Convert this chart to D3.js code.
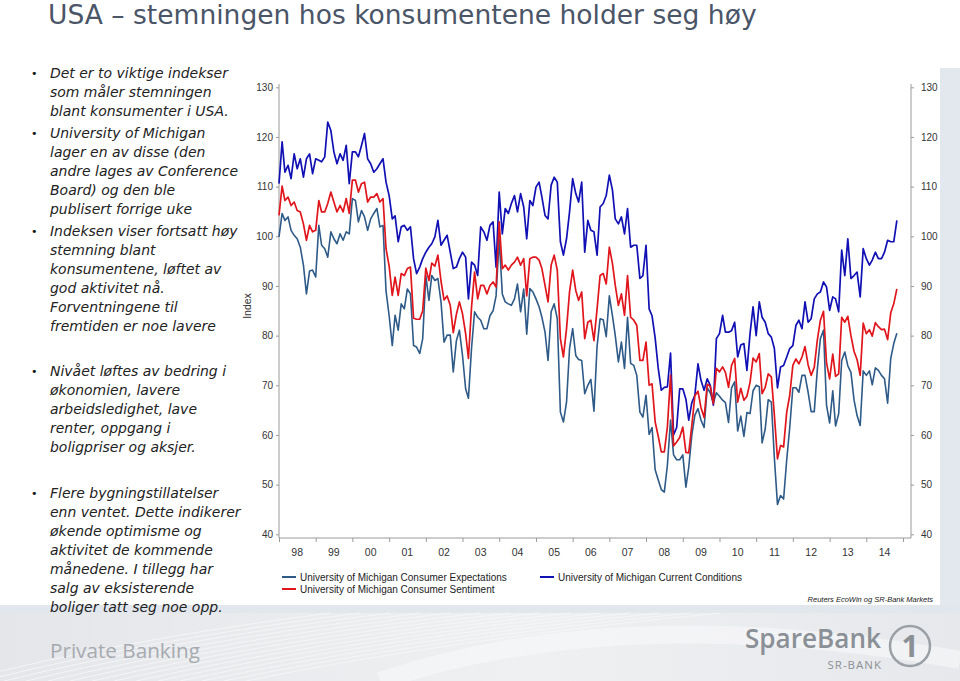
<!DOCTYPE html>
<html><head><meta charset="utf-8">
<script src="https://cdnjs.cloudflare.com/ajax/libs/d3/7.8.5/d3.min.js"></script>
<style>body{margin:0;background:#fff}svg{display:block}</style>
</head><body><svg id="c" width="960" height="681"></svg>
<script>
// ---------- DATA (monthly, Jan 1998 – Nov 2014) ----------
const startYear = 1998;
const yearLabels = ["98","99","00","01","02","03","04","05","06","07","08","09","10","11","12","13","14"];
const yTicks = [40,50,60,70,80,90,100,110,120,130];

const sentiment = [
104.2,110.1,107.2,107.9,106.2,106.9,105.2,104.9,102.5,99.2,102.2,100.9,
101.2,107.2,104.9,104.9,106.6,108.9,106.9,104.9,106.2,104.9,107.6,104.6,
111.3,111.3,108.9,110.6,110.9,106.9,107.9,107.9,108.6,106.9,107.6,97.5,
94.0,88.1,91.8,88.1,92.5,92.1,93.5,93.8,83.5,83.3,83.3,85.0,
93.6,91.1,94.6,94.0,96.2,91.0,87.2,88.0,86.1,80.6,84.3,86.8,
84.4,80.4,75.4,85.8,92.8,87.4,90.1,90.1,88.4,90.1,90.8,89.8,
102.9,93.5,94.2,93.2,94.2,94.8,95.8,94.2,95.5,88.0,95.5,95.8,
95.8,95.2,93.5,90.1,86.8,94.2,96.2,93.2,79.4,75.7,81.4,88.8,
93.2,89.1,87.1,88.8,79.4,82.7,83.1,79.0,85.4,92.1,92.5,90.4,
97.8,94.5,90.1,86.1,88.4,84.1,92.1,83.7,83.1,82.1,75.0,75.0,
78.7,70.0,70.3,62.6,59.8,56.6,56.6,61.7,72.0,57.8,58.6,59.5,
61.6,56.5,56.4,62.0,67.9,68.8,65.5,63.5,70.2,69.8,66.3,73.4,
72.7,73.7,72.6,69.6,74.0,75.4,66.6,69.4,67.0,67.8,70.6,75.5,
74.7,76.4,68.3,69.6,72.3,71.7,64.0,55.2,57.9,57.6,64.6,68.0,
74.0,75.3,74.3,75.7,77.8,74.1,72.0,73.6,79.2,83.1,84.9,74.5,
71.3,76.3,71.8,72.3,83.7,82.7,83.9,80.0,76.8,75.2,72.0,82.5,
80.4,81.2,79.9,82.6,81.8,81.2,81.3,79.2,84.6,86.4,89.4];

const current = [
110.6,119.0,112.9,114.3,111.6,116.6,113.6,115.6,111.9,115.6,116.6,112.6,
115.6,115.3,115.0,116.0,123.0,121.3,117.0,114.6,116.6,115.3,118.3,110.6,
117.0,117.0,116.0,118.3,120.7,115.6,114.6,112.9,113.6,114.6,115.6,110.9,
108.2,103.5,104.1,98.9,101.9,102.2,101.2,101.9,95.5,92.5,93.8,95.5,
96.8,97.8,98.5,99.9,103.2,98.2,99.2,100.2,96.8,93.5,93.8,95.5,
96.8,95.8,87.4,94.8,94.2,92.1,101.9,100.9,99.2,102.2,102.9,93.8,
108.9,100.5,105.6,104.6,106.6,108.2,104.9,108.6,105.9,99.5,107.2,106.2,
109.9,110.9,107.9,104.2,103.5,110.3,111.9,110.9,98.9,96.2,99.5,104.9,
111.6,108.6,106.9,110.9,96.8,103.2,101.2,100.9,96.2,105.9,106.6,108.2,
112.3,109.3,103.5,102.5,103.9,100.5,105.6,97.8,98.2,98.2,91.5,92.1,
98.2,85.4,84.0,79.5,73.5,69.0,69.6,69.7,76.5,60.0,61.5,69.3,
69.3,67.2,63.0,66.5,68.0,74.3,71.0,69.0,71.3,70.0,66.0,79.4,
80.4,84.1,80.7,80.7,81.0,82.7,75.7,78.1,78.4,73.0,80.4,85.8,
80.0,86.8,83.7,82.7,80.4,79.7,77.4,69.5,73.7,74.0,75.7,77.4,
78.0,82.1,83.1,81.4,86.8,82.7,83.4,87.4,88.4,88.8,90.8,89.8,
85.1,87.8,87.4,84.8,97.2,92.1,99.5,91.5,92.1,92.8,87.8,97.5,
95.5,94.2,95.2,96.8,95.5,95.5,96.8,99.2,98.9,98.9,103.2];

const expectations = [
99.9,104.6,103.2,103.9,101.2,100.2,99.5,97.8,94.2,88.4,93.0,93.2,
91.8,102.2,98.2,97.5,95.8,100.9,99.5,98.5,100.5,99.2,100.9,100.5,
107.6,107.2,102.9,105.2,103.9,101.2,103.5,104.6,105.6,101.9,102.2,89.0,
84.0,78.0,84.1,81.1,86.4,85.4,89.4,88.4,78.0,77.7,76.4,79.4,
92.1,87.1,92.1,91.1,91.5,86.8,78.7,80.1,80.1,72.7,79.0,81.1,
76.0,69.3,67.4,77.5,84.8,83.7,83.1,81.4,81.4,84.0,85.0,88.0,
99.5,88.4,86.8,86.4,86.1,87.4,90.4,84.8,89.4,80.3,89.5,88.8,
87.4,85.8,83.7,80.7,75.0,84.8,86.4,83.4,64.6,62.6,66.6,77.4,
81.4,76.0,75.2,75.0,68.3,70.0,71.2,64.8,77.9,83.4,83.2,79.8,
88.0,84.0,80.0,74.7,78.7,73.4,83.7,74.4,74.0,72.0,64.6,63.6,
68.0,60.1,61.5,53.0,51.0,49.0,48.5,54.0,63.0,56.0,55.0,55.0,
56.0,49.5,53.5,60.0,64.0,65.3,63.0,61.5,69.5,68.5,66.5,68.5,
67.8,67.0,66.5,62.5,69.5,70.7,60.8,63.8,59.7,64.5,64.3,68.9,
70.0,69.7,58.4,61.2,67.1,66.6,55.4,46.0,47.8,47.1,55.0,61.5,
69.5,69.5,68.6,72.0,72.0,68.6,64.7,64.7,73.3,79.4,81.1,66.0,
62.4,68.9,61.8,64.3,75.0,76.7,73.9,72.6,67.0,63.9,61.9,72.9,
72.0,72.9,70.1,73.5,73.0,72.0,71.3,66.4,75.4,78.4,80.5];

const seriesNames = ["University of Michigan Consumer Expectations",
                     "University of Michigan Current Conditions",
                     "University of Michigan Consumer Sentiment"];
const seriesColors = ["#2e5a88", "#1010b4", "#e0161c"];

const title = "USA \u2013 stemningen hos konsumentene holder seg h\u00f8y";
const bulletGroups = [
  ["Det er to viktige indekser","som m\u00e5ler stemningen","blant konsumenter i USA."],
  ["University of Michigan","lager en av disse (den","andre lages av Conference","Board) og den ble","publisert forrige uke"],
  ["Indeksen viser fortsatt h\u00f8y","stemning blant","konsumentene, l\u00f8ftet av","god aktivitet n\u00e5.","Forventningene til","fremtiden er noe lavere"],
  ["Niv\u00e5et l\u00f8ftes av bedring i","\u00f8konomien, lavere","arbeidsledighet, lave","renter, oppgang i","boligpriser og aksjer."],
  ["Flere bygningstillatelser","enn ventet. Dette indikerer","\u00f8kende optimisme og","aktivitet de kommende","m\u00e5nedene. I tillegg har","salg av eksisterende","boliger tatt seg noe opp."]
];
const bulletTops = [73, 133, 231, 371, 493];
const sourceText = "Reuters EcoWin og SR-Bank Markets";

// ---------- DRAW ----------
const svg = d3.select("#c");
function fit(sel, w){ const n = sel.node(); const cur = n.getComputedTextLength(); const fs = parseFloat(sel.attr("font-size")); sel.attr("font-size", fs*w/cur); return fs*w/cur; }

// background decorations
const defs = svg.append("defs");
const g1 = defs.append("linearGradient").attr("id","ban").attr("x1",0).attr("y1",0).attr("x2",1).attr("y2",0);
g1.append("stop").attr("offset","0%").attr("stop-color","#e4e6e9");
g1.append("stop").attr("offset","55%").attr("stop-color","#eef0f2");
g1.append("stop").attr("offset","100%").attr("stop-color","#e6e8eb");
svg.append("rect").attr("x",940).attr("y",68).attr("width",20).attr("height",545).attr("fill","#e3e8ee");
svg.append("rect").attr("x",0).attr("y",605).attr("width",960).attr("height",8).attr("fill","#e2e7ed");
svg.append("rect").attr("x",0).attr("y",613).attr("width",960).attr("height",68).attr("fill","url(#ban)");
for (let i=0;i<14;i++){
  svg.append("path").attr("d",`M${-40+i*22},681 Q${120+i*25},640 ${330+i*30},613`)
    .attr("fill","none").attr("stroke","#f7f8f9").attr("stroke-width",1).attr("opacity",0.8);
}
svg.append("path").attr("d","M380,681 Q620,600 960,660").attr("fill","none").attr("stroke","#f8f9fa").attr("stroke-width",18).attr("opacity",0.6);

// title
const tt = svg.append("text").attr("x",48).attr("y",24).attr("font-family","DejaVu Sans, Verdana, sans-serif")
  .attr("font-size",26).attr("fill","#4a5567").text(title);
fit(tt, 709);

// bullets
let bfs = null;
bulletGroups.forEach((grp, gi) => {
  svg.append("text").attr("x",31).attr("y",bulletTops[gi]+4).attr("font-family","DejaVu Sans, sans-serif")
    .attr("font-size",11).attr("fill","#111").text("\u2022");
  grp.forEach((line, li) => {
    const t = svg.append("text").attr("x",50).attr("y",bulletTops[gi]+li*19+4.5)
      .attr("font-family","DejaVu Sans, Verdana, sans-serif").attr("font-style","italic")
      .attr("font-size",bfs||12).attr("fill","#222").text(line);
    if (bfs===null) bfs = fit(t, 178);
  });
});

// chart
const x = d3.scaleTime().domain([new Date(1998,0,1), new Date(2015,0,1)]).range([279, 903]);
const y = d3.scaleLinear().domain([40,130]).range([534.3, 87.3]);
const dates = sentiment.map((_, i) => d3.timeMonth.offset(new Date(startYear,0,1), i));
const axisCol = "#9a9a9a";
const fontC = "Liberation Sans, Arial, sans-serif";

const la = svg.append("g").attr("transform","translate(279,0)")
  .call(d3.axisLeft(y).tickValues(yTicks).tickSize(3).tickPadding(3));
const ra = svg.append("g").attr("transform","translate(911,0)")
  .call(d3.axisRight(y).tickValues(yTicks).tickSize(3).tickPadding(7));
[la, ra].forEach(a => {
  a.select(".domain").remove();
  a.selectAll("line").attr("stroke", axisCol);
  a.selectAll("text").attr("font-family",fontC).attr("font-size",10).attr("fill","#333");
});
svg.append("line").attr("x1",279).attr("x2",279).attr("y1",84).attr("y2",538).attr("stroke",axisCol);
svg.append("line").attr("x1",911).attr("x2",911).attr("y1",84).attr("y2",538).attr("stroke",axisCol);

const years = d3.timeYear.range(new Date(1998,0,1), new Date(2016,0,1));
const ba = svg.append("g").attr("transform","translate(0,538)")
  .call(d3.axisBottom(x).tickValues(years).tickSize(4).tickFormat(""));
ba.select(".domain").remove();
ba.selectAll("line").attr("stroke",axisCol);
svg.append("line").attr("x1",279).attr("x2",911).attr("y1",538).attr("y2",538).attr("stroke",axisCol);
svg.append("g").selectAll("text").data(yearLabels).join("text")
  .attr("x",(d,i)=> x(new Date(startYear+i,6,1)))
  .attr("y",556).attr("text-anchor","middle").attr("font-family",fontC).attr("font-size",10.5).attr("fill","#333")
  .text(d=>d);

svg.append("text").attr("transform","translate(251,306) rotate(-90)").attr("text-anchor","middle")
  .attr("font-family",fontC).attr("font-size",10.5).attr("fill","#333").text("Index");

const line = d3.line().x((d,i)=>x(dates[i])).y(d=>y(d));
const seriesData = [expectations, current, sentiment];
seriesData.forEach((s, k) => {
  svg.append("path").datum(s).attr("d", line).attr("fill","none")
    .attr("stroke", seriesColors[k]).attr("stroke-width", k===0?1.6:1.7).attr("stroke-linejoin","round");
});

const legPos = [[282,577],[540,577],[282,589]];
legPos.forEach((p,k)=>{
  svg.append("line").attr("x1",p[0]).attr("x2",p[0]+14).attr("y1",p[1]).attr("y2",p[1])
    .attr("stroke",seriesColors[k]).attr("stroke-width",2);
  svg.append("text").attr("x",p[0]+18).attr("y",p[1]+3.5).attr("font-family",fontC)
    .attr("font-size",10).attr("fill","#222").text(seriesNames[k]);
});
svg.append("text").attr("x",933).attr("y",602).attr("text-anchor","end").attr("font-family",fontC)
  .attr("font-style","italic").attr("font-size",7.5).attr("fill","#222").text(sourceText);

// footer branding
const pb = svg.append("text").attr("x",50).attr("y",658).attr("font-family","Open Sans, sans-serif")
  .attr("font-size",20).attr("fill","#a6aab0").text("Private Banking");
fit(pb, 150);
const sb = svg.append("text").attr("x",745).attr("y",648).attr("font-family","Open Sans, sans-serif")
  .attr("font-weight",600).attr("font-size",26).attr("fill","#8b9097").text("SpareBank");
fit(sb, 136);
svg.append("text").attr("x",882).attr("y",669).attr("text-anchor","end").attr("font-family","Open Sans, sans-serif")
  .attr("font-size",11.5).attr("letter-spacing",1).attr("fill","#8b9097").text("SR-BANK");
svg.append("circle").attr("cx",910).attr("cy",646).attr("r",20).attr("fill","none").attr("stroke","#9aa0a6").attr("stroke-width",2.5);
svg.append("text").attr("x",910).attr("y",657).attr("text-anchor","middle").attr("font-family","Open Sans, sans-serif")
  .attr("font-weight",700).attr("font-size",30).attr("fill","#8b9097").text("1");
</script></body></html>
